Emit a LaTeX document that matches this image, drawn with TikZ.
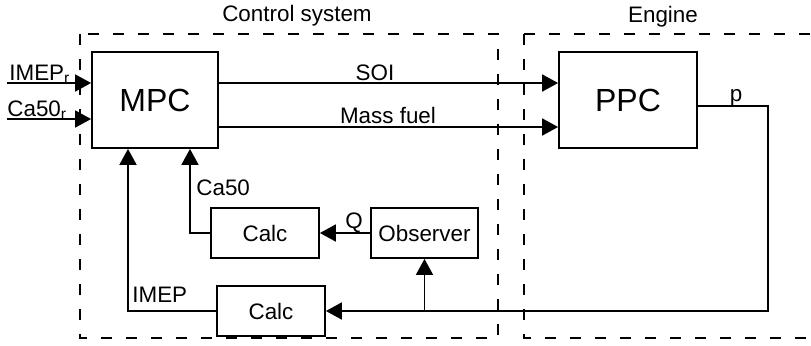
\documentclass[tikz,border=0pt]{standalone}
\usepackage{fontspec}
\setmainfont{Liberation Sans}
\usetikzlibrary{arrows.meta}

\begin{document}
\begin{tikzpicture}[
  x=0.5pt, y=-0.5pt,
  every node/.style={font=\fontsize{11.2}{13}\selectfont},
  block/.style={draw, line width=0.9pt, inner sep=0pt, minimum width=54pt, minimum height=25pt},
  bigblock/.style={block, minimum height=48pt, font=\fontsize{16}{19}\selectfont},
  frame/.style={line width=0.9pt, dash pattern=on 5.5pt off 7pt},
  arrow/.style={-{Triangle[length=8pt,width=8.5pt]}, line width=0.9pt},
  link/.style={line width=0.9pt},
  lbl/.style={anchor=base, inner sep=0pt}
]
\useasboundingbox (0,0) rectangle (811,345);
\draw[frame] (80,34) rectangle (498,338);
\draw[frame] (524,34) rectangle (813,338);
\node[lbl] (ctrltitle) at (297,21) {Control system};
\node[lbl] (engtitle) at (663,22) {Engine};
\node[bigblock, minimum width=63pt] (mpc) at (155,100) {MPC};
\node[bigblock, minimum width=69pt] (ppc) at (628,100) {PPC};
\node[block] (calcca) at (265,233) {Calc};
\node[block, minimum width=53.5pt] (observer) at (424.5,233) {Observer};
\node[block] (calcimep) at (271,311) {Calc};
\coordinate (imepin) at (7,83);
\coordinate (cain) at (7,119);
\node[lbl, anchor=base west] (imepref) at (9,80) {IMEP\textsubscript{r}};
\node[lbl, anchor=base west] (caref) at (7,116) {Ca50\textsubscript{r}};
\draw[arrow] (imepin) -- (mpc.west |- imepin);
\draw[arrow] (cain) -- (mpc.west |- cain);
\draw[arrow] (mpc.east |- 0,83) -- (ppc.west |- 0,83);
\draw[arrow] (mpc.east |- 0,127) -- (ppc.west |- 0,127);
\node[lbl] (soi) at (375,80) {SOI};
\node[lbl] (fuel) at (388,123) {Mass fuel};
\coordinate (pcorner) at (768,106);
\draw[arrow] (ppc.east |- pcorner) -- (pcorner) |- (calcimep.east);
\node[lbl] (plbl) at (736,101) {p};
\draw[arrow] (observer.south |- calcimep.east) -- (observer.south);
\draw[arrow] (observer.west) -- (calcca.east);
\node[lbl] (qlbl) at (354,228) {Q};
\draw[arrow] (calcca.west) -- (190,233) -- (mpc.south -| 190,0);
\node[lbl, anchor=base west] (calbl) at (196,195) {Ca50};
\draw[arrow] (calcimep.west) -- (128,311) -- (mpc.south -| 128,0);
\node[lbl, anchor=base west] (imeplbl) at (132,302) {IMEP};
\end{tikzpicture}
\end{document}
